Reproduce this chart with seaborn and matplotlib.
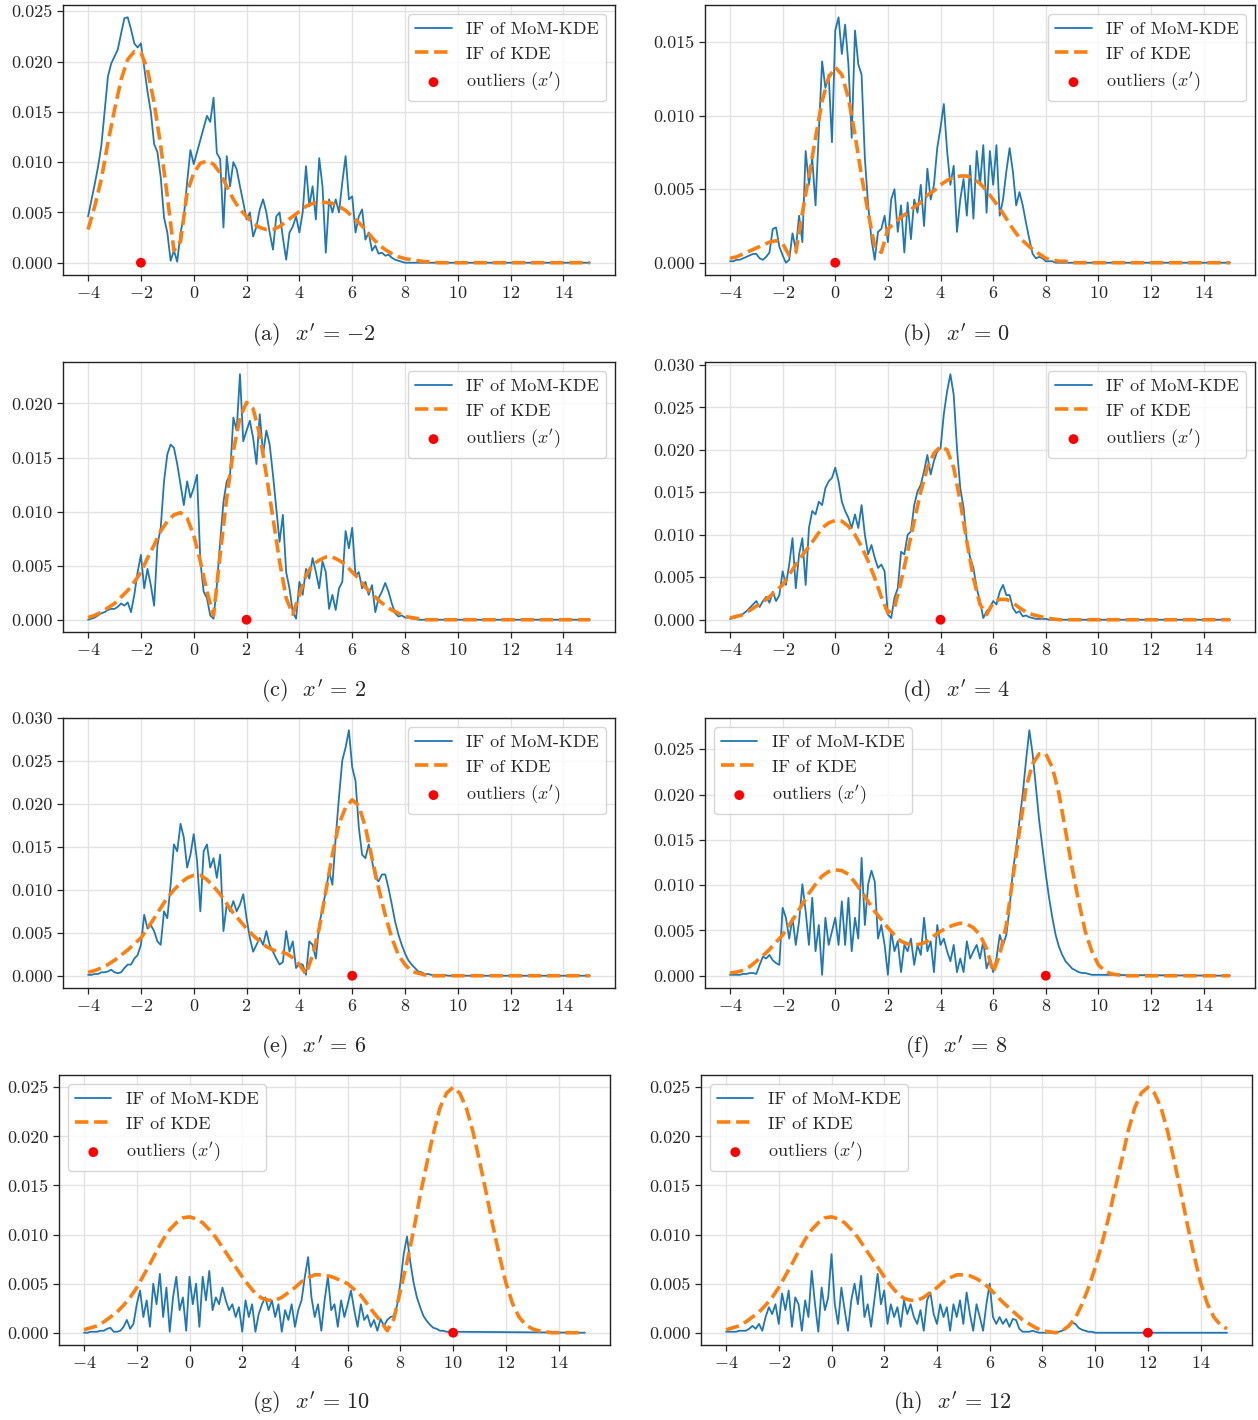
import matplotlib
matplotlib.use("Agg")
import matplotlib.pyplot as plt
from matplotlib.ticker import MultipleLocator, FormatStrFormatter
import seaborn as sns

# sampling grids
X_MOM = [
    -4.0, -3.875, -3.75, -3.625, -3.5, -3.375, -3.25, -3.125,
    -3.0, -2.875, -2.75, -2.625, -2.5, -2.375, -2.25, -2.125,
    -2.0, -1.875, -1.75, -1.625, -1.5, -1.375, -1.25, -1.125,
    -1.0, -0.875, -0.75, -0.625, -0.5, -0.375, -0.25, -0.125,
    0.0, 0.125, 0.25, 0.375, 0.5, 0.625, 0.75, 0.875,
    1.0, 1.125, 1.25, 1.375, 1.5, 1.625, 1.75, 1.875,
    2.0, 2.125, 2.25, 2.375, 2.5, 2.625, 2.75, 2.875,
    3.0, 3.125, 3.25, 3.375, 3.5, 3.625, 3.75, 3.875,
    4.0, 4.125, 4.25, 4.375, 4.5, 4.625, 4.75, 4.875,
    5.0, 5.125, 5.25, 5.375, 5.5, 5.625, 5.75, 5.875,
    6.0, 6.125, 6.25, 6.375, 6.5, 6.625, 6.75, 6.875,
    7.0, 7.125, 7.25, 7.375, 7.5, 7.625, 7.75, 7.875,
    8.0, 8.125, 8.25, 8.375, 8.5, 8.625, 8.75, 8.875,
    9.0, 9.125, 9.25, 9.375, 9.5, 9.625, 9.75, 9.875,
    10.0, 15.0,
]
X_KDE = [
    -4.0, -3.75, -3.5, -3.25, -3.0, -2.75, -2.5, -2.25,
    -2.0, -1.75, -1.5, -1.25, -1.0, -0.75, -0.5, -0.25,
    0.0, 0.25, 0.5, 0.75, 1.0, 1.25, 1.5, 1.75,
    2.0, 2.25, 2.5, 2.75, 3.0, 3.25, 3.5, 3.75,
    4.0, 4.25, 4.5, 4.75, 5.0, 5.25, 5.5, 5.75,
    6.0, 6.25, 6.5, 6.75, 7.0, 7.25, 7.5, 7.75,
    8.0, 8.25, 8.5, 8.75, 9.0, 9.25, 9.5, 9.75,
    10.0, 10.25, 10.5, 10.75, 11.0, 11.25, 11.5, 11.75,
    12.0, 12.25, 12.5, 12.75, 13.0, 13.25, 13.5, 13.75,
    14.0, 14.25, 14.5, 14.75, 15.0,
]

OUTLIERS = [-2, 0, 2, 4, 6, 8, 10, 12]
PANEL_LABELS = ["(a)", "(b)", "(c)", "(d)", "(e)", "(f)", "(g)", "(h)"]

# IF of KDE, one list per panel
KDE_A = [
    0.0033, 0.0056, 0.0083, 0.0119, 0.0152, 0.0182, 0.0202, 0.0210,
    0.0209, 0.0192, 0.0159, 0.0116, 0.0066, 0.0012, 0.0021, 0.0070,
    0.0089, 0.0099, 0.0101, 0.0098, 0.0089, 0.0076, 0.0063, 0.0053,
    0.0046, 0.0039, 0.0035, 0.0033, 0.0033, 0.0036, 0.0041, 0.0046,
    0.0051, 0.0056, 0.0059, 0.0060, 0.0060, 0.0059, 0.0056, 0.0052,
    0.0046, 0.0040, 0.0033, 0.0025, 0.0018, 0.0013, 0.0009, 0.0006,
    0.0004, 0.0003, 0.0002, 0.0001, 0.0001, 0.0, 0.0, 0.0,
    0.0, 0.0, 0.0, 0.0, 0.0, 0.0, 0.0, 0.0,
    0.0, 0.0, 0.0, 0.0, 0.0, 0.0, 0.0, 0.0,
    0.0, 0.0, 0.0, 0.0, 0.0,
]
KDE_B = [
    0.0003, 0.0004, 0.0006, 0.0008, 0.0010, 0.0012, 0.0014, 0.0015,
    0.0013, 0.0005, 0.0007, 0.0034, 0.0059, 0.0085, 0.0110, 0.0126,
    0.0133, 0.0128, 0.0112, 0.0087, 0.0059, 0.0034, 0.0011, 0.0007,
    0.0023, 0.0027, 0.0031, 0.0034, 0.0038, 0.0041, 0.0046, 0.0049,
    0.0053, 0.0056, 0.0058, 0.0059, 0.0059, 0.0057, 0.0054, 0.0049,
    0.0043, 0.0037, 0.0030, 0.0023, 0.0017, 0.0013, 0.0009, 0.0006,
    0.0003, 0.0002, 0.0001, 0.0001, 0.0, 0.0, 0.0, 0.0,
    0.0, 0.0, 0.0, 0.0, 0.0, 0.0, 0.0, 0.0,
    0.0, 0.0, 0.0, 0.0, 0.0, 0.0, 0.0, 0.0,
    0.0, 0.0, 0.0, 0.0, 0.0,
]
KDE_C = [
    0.0002, 0.0004, 0.0007, 0.0011, 0.0015, 0.0021, 0.0027, 0.0035,
    0.0044, 0.0057, 0.0069, 0.0082, 0.0091, 0.0097, 0.0099, 0.0094,
    0.0078, 0.0054, 0.0026, 0.0004, 0.0060, 0.0113, 0.0156, 0.0187,
    0.0201, 0.0195, 0.0171, 0.0134, 0.0094, 0.0054, 0.0020, 0.0005,
    0.0023, 0.0041, 0.0051, 0.0055, 0.0058, 0.0058, 0.0055, 0.0051,
    0.0044, 0.0038, 0.0030, 0.0024, 0.0018, 0.0013, 0.0009, 0.0006,
    0.0003, 0.0002, 0.0001, 0.0, 0.0, 0.0, 0.0, 0.0,
    0.0, 0.0, 0.0, 0.0, 0.0, 0.0, 0.0, 0.0,
    0.0, 0.0, 0.0, 0.0, 0.0, 0.0, 0.0, 0.0,
    0.0, 0.0, 0.0, 0.0, 0.0,
]
KDE_D = [
    0.0002, 0.0004, 0.0006, 0.0011, 0.0016, 0.0021, 0.0027, 0.0034,
    0.0041, 0.0053, 0.0065, 0.0076, 0.0086, 0.0097, 0.0108, 0.0114,
    0.0117, 0.0116, 0.0110, 0.0100, 0.0086, 0.0069, 0.0049, 0.0027,
    0.0008, 0.0014, 0.0045, 0.0080, 0.0116, 0.0151, 0.0179, 0.0196,
    0.0204, 0.0200, 0.0179, 0.0139, 0.0092, 0.0049, 0.0018, 0.0006,
    0.0020, 0.0024, 0.0024, 0.0020, 0.0014, 0.0009, 0.0006, 0.0004,
    0.0002, 0.0001, 0.0, 0.0, 0.0, 0.0, 0.0, 0.0,
    0.0, 0.0, 0.0, 0.0, 0.0, 0.0, 0.0, 0.0,
    0.0, 0.0, 0.0, 0.0, 0.0, 0.0, 0.0, 0.0,
    0.0, 0.0, 0.0, 0.0, 0.0,
]
KDE_E = [
    0.0004, 0.0006, 0.0009, 0.0013, 0.0018, 0.0024, 0.0030, 0.0037,
    0.0044, 0.0055, 0.0067, 0.0079, 0.0091, 0.0100, 0.0108, 0.0114,
    0.0117, 0.0117, 0.0112, 0.0104, 0.0095, 0.0084, 0.0073, 0.0064,
    0.0055, 0.0047, 0.0040, 0.0034, 0.0030, 0.0028, 0.0026, 0.0021,
    0.0013, 0.0002, 0.0024, 0.0055, 0.0098, 0.0141, 0.0177, 0.0196,
    0.0205, 0.0198, 0.0173, 0.0137, 0.0102, 0.0071, 0.0044, 0.0024,
    0.0013, 0.0005, 0.0003, 0.0001, 0.0, 0.0, 0.0, 0.0,
    0.0, 0.0, 0.0, 0.0, 0.0, 0.0, 0.0, 0.0,
    0.0, 0.0, 0.0, 0.0, 0.0, 0.0, 0.0, 0.0,
    0.0, 0.0, 0.0, 0.0, 0.0,
]
KDE_F = [
    0.0003, 0.0004, 0.0006, 0.0010, 0.0016, 0.0022, 0.0029, 0.0037,
    0.0045, 0.0056, 0.0067, 0.0079, 0.0091, 0.0101, 0.0110, 0.0115,
    0.0117, 0.0116, 0.0112, 0.0103, 0.0093, 0.0082, 0.0071, 0.0062,
    0.0053, 0.0045, 0.0038, 0.0035, 0.0034, 0.0035, 0.0038, 0.0044,
    0.0049, 0.0053, 0.0056, 0.0058, 0.0057, 0.0053, 0.0045, 0.0030,
    0.0004, 0.0023, 0.0056, 0.0108, 0.0160, 0.0208, 0.0234, 0.0245,
    0.0245, 0.0230, 0.0201, 0.0160, 0.0119, 0.0082, 0.0049, 0.0027,
    0.0012, 0.0005, 0.0002, 0.0001, 0.0, 0.0, 0.0, 0.0,
    0.0, 0.0, 0.0, 0.0, 0.0, 0.0, 0.0, 0.0,
    0.0, 0.0, 0.0, 0.0, 0.0,
]
KDE_G = [
    0.0003, 0.0005, 0.0007, 0.0011, 0.0016, 0.0021, 0.0028, 0.0036,
    0.0046, 0.0058, 0.0070, 0.0083, 0.0095, 0.0105, 0.0112, 0.0117,
    0.0118, 0.0116, 0.0112, 0.0105, 0.0097, 0.0087, 0.0077, 0.0067,
    0.0057, 0.0048, 0.0040, 0.0035, 0.0033, 0.0033, 0.0036, 0.0041,
    0.0046, 0.0052, 0.0056, 0.0059, 0.0059, 0.0058, 0.0056, 0.0053,
    0.0050, 0.0044, 0.0038, 0.0029, 0.0020, 0.0012, 0.0002, 0.0014,
    0.0043, 0.0072, 0.0104, 0.0140, 0.0172, 0.0203, 0.0229, 0.0244,
    0.0250, 0.0244, 0.0229, 0.0205, 0.0175, 0.0143, 0.0110, 0.0079,
    0.0051, 0.0030, 0.0016, 0.0008, 0.0004, 0.0002, 0.0001, 0.0,
    0.0, 0.0, 0.0, 0.0, 0.0,
]
KDE_H = [
    0.0003, 0.0005, 0.0007, 0.0011, 0.0016, 0.0021, 0.0028, 0.0036,
    0.0046, 0.0058, 0.0070, 0.0083, 0.0095, 0.0105, 0.0112, 0.0117,
    0.0118, 0.0116, 0.0112, 0.0105, 0.0097, 0.0087, 0.0077, 0.0067,
    0.0057, 0.0048, 0.0040, 0.0035, 0.0033, 0.0033, 0.0036, 0.0041,
    0.0046, 0.0052, 0.0056, 0.0059, 0.0059, 0.0058, 0.0055, 0.0051,
    0.0045, 0.0038, 0.0031, 0.0025, 0.0019, 0.0013, 0.0009, 0.0005,
    0.0002, 0.0001, 0.0000, 0.0002, 0.0007, 0.0015, 0.0029, 0.0046,
    0.0066, 0.0090, 0.0116, 0.0146, 0.0175, 0.0205, 0.0229, 0.0244,
    0.0250, 0.0244, 0.0229, 0.0205, 0.0175, 0.0143, 0.0110, 0.0079,
    0.0051, 0.0030, 0.0016, 0.0008, 0.0004,
]

# IF of MoM-KDE, one list per panel
MOM_A = [
    0.0046, 0.0062, 0.0078, 0.0095, 0.0116, 0.0150, 0.0185, 0.0198,
    0.0205, 0.0212, 0.0228, 0.0243, 0.0244, 0.0232, 0.0218, 0.0214,
    0.0218, 0.0194, 0.0170, 0.0150, 0.0118, 0.0110, 0.0085, 0.0045,
    0.0030, 0.0002, 0.0012, 0.0001, 0.0030, 0.0046, 0.0080, 0.0112,
    0.0098, 0.0110, 0.0122, 0.0134, 0.0146, 0.0140, 0.0164, 0.0109,
    0.0103, 0.0035, 0.0106, 0.0076, 0.0100, 0.0093, 0.0076, 0.0060,
    0.0043, 0.0050, 0.0026, 0.0036, 0.0053, 0.0063, 0.0050, 0.0030,
    0.0013, 0.0046, 0.0050, 0.0025, 0.0003, 0.0030, 0.0036, 0.0046,
    0.0030, 0.0050, 0.0096, 0.0056, 0.0076, 0.0043, 0.0104, 0.0076,
    0.0010, 0.0063, 0.0050, 0.0063, 0.0050, 0.0080, 0.0106, 0.0063,
    0.0066, 0.0030, 0.0046, 0.0053, 0.0023, 0.0030, 0.0012, 0.0017,
    0.0009, 0.0010, 0.0007, 0.0008, 0.0005, 0.0003, 0.0002, 0.0001,
    0.0, 0.0, 0.0, 0.0, 0.0, 0.0, 0.0, 0.0,
    0.0, 0.0, 0.0, 0.0, 0.0, 0.0, 0.0, 0.0,
    0.0, 0.0,
]
MOM_B = [
    0.0001, 0.0001, 0.0002, 0.0002, 0.0003, 0.0004, 0.0005, 0.0006,
    0.0006, 0.0003, 0.0002, 0.0004, 0.0007, 0.0023, 0.0024, 0.0011,
    0.0005, 0.0000, 0.0002, 0.0020, 0.0009, 0.0032, 0.0014, 0.0076,
    0.0053, 0.0071, 0.0039, 0.0089, 0.0137, 0.0119, 0.0128, 0.0082,
    0.0158, 0.0167, 0.0142, 0.0162, 0.0135, 0.0085, 0.0158, 0.0135,
    0.0128, 0.0071, 0.0039, 0.0016, 0.0002, 0.0021, 0.0023, 0.0032,
    0.0014, 0.0043, 0.0050, 0.0021, 0.0039, 0.0007, 0.0041, 0.0016,
    0.0043, 0.0034, 0.0053, 0.0025, 0.0064, 0.0043, 0.0053, 0.0078,
    0.0092, 0.0108, 0.0076, 0.0053, 0.0066, 0.0021, 0.0043, 0.0057,
    0.0032, 0.0066, 0.0030, 0.0076, 0.0053, 0.0080, 0.0034, 0.0076,
    0.0053, 0.0080, 0.0032, 0.0043, 0.0062, 0.0078, 0.0062, 0.0039,
    0.0048, 0.0039, 0.0027, 0.0016, 0.0006, 0.0003, 0.0004, 0.0003,
    0.0001, 0.0001, 0.0001, 0.0, 0.0, 0.0, 0.0, 0.0,
    0.0, 0.0, 0.0, 0.0, 0.0, 0.0, 0.0, 0.0,
    0.0, 0.0,
]
MOM_C = [
    0.0000, 0.0001, 0.0002, 0.0004, 0.0006, 0.0007, 0.0009, 0.0010,
    0.0010, 0.0012, 0.0015, 0.0013, 0.0016, 0.0007, 0.0023, 0.0044,
    0.0060, 0.0029, 0.0047, 0.0032, 0.0013, 0.0069, 0.0085, 0.0128,
    0.0153, 0.0162, 0.0159, 0.0144, 0.0125, 0.0106, 0.0128, 0.0113,
    0.0122, 0.0134, 0.0054, 0.0026, 0.0020, 0.0004, 0.0001, 0.0032,
    0.0072, 0.0109, 0.0128, 0.0134, 0.0187, 0.0175, 0.0227, 0.0165,
    0.0175, 0.0184, 0.0168, 0.0144, 0.0190, 0.0153, 0.0175, 0.0162,
    0.0134, 0.0103, 0.0072, 0.0097, 0.0044, 0.0029, 0.0007, 0.0001,
    0.0035, 0.0023, 0.0047, 0.0038, 0.0057, 0.0044, 0.0029, 0.0054,
    0.0044, 0.0010, 0.0023, 0.0009, 0.0029, 0.0035, 0.0082, 0.0066,
    0.0085, 0.0041, 0.0044, 0.0029, 0.0035, 0.0023, 0.0032, 0.0007,
    0.0020, 0.0026, 0.0034, 0.0026, 0.0015, 0.0006, 0.0003, 0.0004,
    0.0002, 0.0002, 0.0001, 0.0001, 0.0, 0.0, 0.0, 0.0,
    0.0, 0.0, 0.0, 0.0, 0.0, 0.0, 0.0, 0.0,
    0.0, 0.0,
]
MOM_D = [
    0.0001, 0.0002, 0.0003, 0.0005, 0.0007, 0.0010, 0.0014, 0.0018,
    0.0022, 0.0015, 0.0022, 0.0027, 0.0020, 0.0033, 0.0022, 0.0029,
    0.0057, 0.0041, 0.0065, 0.0096, 0.0037, 0.0077, 0.0096, 0.0041,
    0.0108, 0.0128, 0.0124, 0.0139, 0.0135, 0.0155, 0.0163, 0.0167,
    0.0179, 0.0163, 0.0139, 0.0128, 0.0120, 0.0108, 0.0124, 0.0108,
    0.0135, 0.0100, 0.0077, 0.0088, 0.0073, 0.0061, 0.0065, 0.0057,
    0.0006, 0.0002, 0.0026, 0.0037, 0.0080, 0.0077, 0.0100, 0.0104,
    0.0135, 0.0151, 0.0159, 0.0175, 0.0194, 0.0171, 0.0187, 0.0198,
    0.0202, 0.0242, 0.0269, 0.0289, 0.0265, 0.0202, 0.0155, 0.0132,
    0.0092, 0.0073, 0.0061, 0.0037, 0.0022, 0.0002, 0.0010, 0.0014,
    0.0022, 0.0018, 0.0033, 0.0041, 0.0029, 0.0029, 0.0014, 0.0008,
    0.0010, 0.0004, 0.0005, 0.0003, 0.0002, 0.0001, 0.0001, 0.0001,
    0.0001, 0.0, 0.0, 0.0, 0.0, 0.0, 0.0, 0.0,
    0.0, 0.0, 0.0, 0.0, 0.0, 0.0, 0.0, 0.0,
    0.0, 0.0,
]
MOM_E = [
    0.0001, 0.0001, 0.0002, 0.0002, 0.0004, 0.0004, 0.0005, 0.0007,
    0.0004, 0.0003, 0.0004, 0.0009, 0.0013, 0.0013, 0.0020, 0.0024,
    0.0036, 0.0071, 0.0055, 0.0059, 0.0052, 0.0040, 0.0036, 0.0075,
    0.0067, 0.0106, 0.0153, 0.0145, 0.0177, 0.0161, 0.0126, 0.0141,
    0.0165, 0.0134, 0.0075, 0.0145, 0.0153, 0.0126, 0.0137, 0.0114,
    0.0141, 0.0052, 0.0083, 0.0075, 0.0087, 0.0075, 0.0083, 0.0095,
    0.0067, 0.0044, 0.0028, 0.0036, 0.0044, 0.0036, 0.0052, 0.0036,
    0.0028, 0.0020, 0.0013, 0.0016, 0.0052, 0.0028, 0.0040, 0.0009,
    0.0014, 0.0013, 0.0001, 0.0040, 0.0036, 0.0020, 0.0059, 0.0079,
    0.0098, 0.0122, 0.0106, 0.0161, 0.0208, 0.0251, 0.0266, 0.0286,
    0.0243, 0.0227, 0.0173, 0.0141, 0.0137, 0.0153, 0.0134, 0.0114,
    0.0110, 0.0118, 0.0118, 0.0102, 0.0083, 0.0063, 0.0048, 0.0036,
    0.0026, 0.0018, 0.0013, 0.0009, 0.0005, 0.0004, 0.0002, 0.0002,
    0.0001, 0.0001, 0.0001, 0.0001, 0.0001, 0.0, 0.0, 0.0,
    0.0, 0.0,
]
MOM_F = [
    0.0001, 0.0001, 0.0001, 0.0001, 0.0002, 0.0002, 0.0003, 0.0003,
    0.0002, 0.0012, 0.0021, 0.0019, 0.0023, 0.0017, 0.0014, 0.0012,
    0.0075, 0.0064, 0.0041, 0.0064, 0.0034, 0.0060, 0.0101, 0.0071,
    0.0034, 0.0086, 0.0027, 0.0056, 0.0001, 0.0064, 0.0034, 0.0049,
    0.0064, 0.0034, 0.0082, 0.0034, 0.0086, 0.0027, 0.0064, 0.0041,
    0.0130, 0.0056, 0.0101, 0.0116, 0.0104, 0.0041, 0.0056, 0.0034,
    0.0001, 0.0049, 0.0027, 0.0038, 0.0004, 0.0034, 0.0027, 0.0041,
    0.0012, 0.0034, 0.0023, 0.0064, 0.0027, 0.0038, 0.0004, 0.0056,
    0.0034, 0.0041, 0.0027, 0.0016, 0.0034, 0.0004, 0.0019, 0.0004,
    0.0038, 0.0019, 0.0027, 0.0034, 0.0019, 0.0038, 0.0008, 0.0019,
    0.0004, 0.0019, 0.0045, 0.0034, 0.0045, 0.0075, 0.0116, 0.0141,
    0.0171, 0.0201, 0.0238, 0.0271, 0.0245, 0.0208, 0.0171, 0.0141,
    0.0112, 0.0086, 0.0064, 0.0045, 0.0032, 0.0023, 0.0016, 0.0012,
    0.0008, 0.0006, 0.0004, 0.0003, 0.0003, 0.0002, 0.0001, 0.0001,
    0.0001, 0.0,
]
MOM_G = [
    0.0000, 0.0000, 0.0001, 0.0001, 0.0001, 0.0002, 0.0002, 0.0004,
    0.0005, 0.0001, 0.0001, 0.0002, 0.0006, 0.0013, 0.0004, 0.0009,
    0.0029, 0.0043, 0.0016, 0.0033, 0.0006, 0.0050, 0.0029, 0.0060,
    0.0016, 0.0046, 0.0001, 0.0036, 0.0057, 0.0023, 0.0036, 0.0002,
    0.0057, 0.0029, 0.0050, 0.0006, 0.0057, 0.0033, 0.0063, 0.0023,
    0.0036, 0.0029, 0.0046, 0.0033, 0.0023, 0.0029, 0.0016, 0.0026,
    0.0001, 0.0033, 0.0016, 0.0029, 0.0001, 0.0019, 0.0029, 0.0036,
    0.0023, 0.0033, 0.0016, 0.0029, 0.0001, 0.0023, 0.0013, 0.0029,
    0.0006, 0.0023, 0.0033, 0.0057, 0.0077, 0.0036, 0.0016, 0.0029,
    0.0002, 0.0033, 0.0057, 0.0023, 0.0029, 0.0006, 0.0033, 0.0016,
    0.0029, 0.0043, 0.0023, 0.0006, 0.0029, 0.0013, 0.0018, 0.0006,
    0.0013, 0.0002, 0.0014, 0.0007, 0.0013, 0.0016, 0.0017, 0.0028,
    0.0051, 0.0080, 0.0098, 0.0072, 0.0051, 0.0036, 0.0026, 0.0017,
    0.0012, 0.0008, 0.0005, 0.0004, 0.0002, 0.0002, 0.0001, 0.0001,
    0.0001, 0.0,
]
MOM_H = [
    0.0001, 0.0001, 0.0001, 0.0001, 0.0002, 0.0002, 0.0002, 0.0004,
    0.0007, 0.0004, 0.0009, 0.0002, 0.0016, 0.0026, 0.0019, 0.0029,
    0.0009, 0.0040, 0.0023, 0.0043, 0.0006, 0.0036, 0.0029, 0.0002,
    0.0033, 0.0016, 0.0063, 0.0029, 0.0001, 0.0046, 0.0023, 0.0036,
    0.0080, 0.0029, 0.0009, 0.0046, 0.0023, 0.0002, 0.0033, 0.0050,
    0.0029, 0.0058, 0.0016, 0.0029, 0.0006, 0.0033, 0.0060, 0.0029,
    0.0043, 0.0009, 0.0029, 0.0016, 0.0026, 0.0006, 0.0033, 0.0019,
    0.0029, 0.0016, 0.0009, 0.0023, 0.0002, 0.0033, 0.0041, 0.0019,
    0.0009, 0.0029, 0.0016, 0.0026, 0.0002, 0.0029, 0.0016, 0.0033,
    0.0009, 0.0041, 0.0019, 0.0002, 0.0029, 0.0016, 0.0002, 0.0029,
    0.0050, 0.0016, 0.0009, 0.0016, 0.0009, 0.0014, 0.0006, 0.0014,
    0.0013, 0.0004, 0.0001, 0.0001, 0.0001, 0.0002, 0.0001, 0.0000,
    0.0000, 0.0000, 0.0000, 0.0000, 0.0000, 0.0001, 0.0002, 0.0004,
    0.0006, 0.0010, 0.0009, 0.0005, 0.0003, 0.0002, 0.0001, 0.0001,
    0.0, 0.0,
]

MOM = [MOM_A, MOM_B, MOM_C, MOM_D, MOM_E, MOM_F, MOM_G, MOM_H]
KDE = [KDE_A, KDE_B, KDE_C, KDE_D, KDE_E, KDE_F, KDE_G, KDE_H]

BLUE = "#1f77b4"
ORANGE = "#ff7f0e"

W, H = 1258, 1420
# axes boxes in pixels: left, top, right, bottom
BOXES = [
    (63, 5, 615, 275), (705, 5, 1255, 275),
    (63, 362, 615, 632), (705, 362, 1255, 632),
    (63, 718, 615, 988), (705, 718, 1255, 988),
    (59, 1075, 610, 1345), (701, 1075, 1252, 1345),
]
CAPTION_Y = [335, 335, 691, 691, 1047, 1047, 1403, 1403]
CAPTION_X = [314, 956, 314, 956, 314, 956, 311, 952]

sns.set_style("ticks")
plt.rcParams["font.family"] = "serif"
plt.rcParams["font.serif"] = ["cmr10", "DejaVu Serif"]
plt.rcParams["mathtext.fontset"] = "cm"
plt.rcParams["axes.formatter.use_mathtext"] = True
plt.rcParams["axes.edgecolor"] = "#222222"
plt.rcParams["axes.linewidth"] = 1.0
plt.rcParams["xtick.major.size"] = 4
plt.rcParams["ytick.major.size"] = 4
plt.rcParams["xtick.major.width"] = 0.9
plt.rcParams["ytick.major.width"] = 0.9

fig = plt.figure(figsize=(W / 100, H / 100), dpi=100)

for i in range(8):
    assert len(MOM[i]) == len(X_MOM), (i, len(MOM[i]))
    assert len(KDE[i]) == len(X_KDE), (i, len(KDE[i]))
    l, t, r, b = BOXES[i]
    ax = fig.add_axes([l / W, 1 - b / H, (r - l) / W, (b - t) / H])

    sns.lineplot(x=X_MOM, y=MOM[i], ax=ax, color=BLUE, lw=1.3,
                 estimator=None, label="IF of MoM-KDE")
    sns.lineplot(x=X_KDE, y=KDE[i], ax=ax, color=ORANGE, lw=2.6,
                 ls="--", estimator=None, label="IF of KDE")
    sns.scatterplot(x=[OUTLIERS[i]], y=[0.0], ax=ax, color="red", s=50,
                    edgecolor="none", zorder=3, label="outliers ($x'$)")

    ax.xaxis.set_major_locator(MultipleLocator(2))
    ax.yaxis.set_major_locator(MultipleLocator(0.005))
    ax.yaxis.set_major_formatter(FormatStrFormatter("%.3f"))
    ax.tick_params(labelsize=13)
    ax.grid(True, color="#e3e3e3", lw=1.0)
    ax.set_xlabel("")
    ax.set_ylabel("")

    loc = "upper right" if i < 5 else "upper left"
    ax.legend(loc=loc, fontsize=13, framealpha=0.8, edgecolor="#cccccc")

    val = str(OUTLIERS[i]).replace("-", "{-}")
    fig.text(CAPTION_X[i] / W, 1 - CAPTION_Y[i] / H,
             PANEL_LABELS[i] + "  $x'\\,=\\," + val + "$",
             ha="center", va="center", fontsize=16)

fig.savefig("out.png", dpi=100, facecolor="white")
